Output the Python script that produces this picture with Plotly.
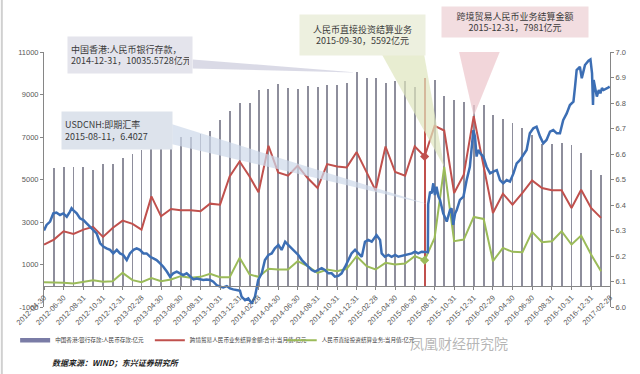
import plotly.graph_objects as go

# ---------------- data ----------------
month_dates = [
    "2012-04-30", "2012-05-31", "2012-06-30", "2012-07-31", "2012-08-31", "2012-09-30",
    "2012-10-31", "2012-11-30", "2012-12-31",
    "2013-01-31", "2013-02-28", "2013-03-31", "2013-04-30", "2013-05-31", "2013-06-30",
    "2013-07-31", "2013-08-31", "2013-09-30", "2013-10-31", "2013-11-30", "2013-12-31",
    "2014-01-31", "2014-02-28", "2014-03-31", "2014-04-30", "2014-05-31", "2014-06-30",
    "2014-07-31", "2014-08-31", "2014-09-30", "2014-10-31", "2014-11-30", "2014-12-31",
    "2015-01-31", "2015-02-28", "2015-03-31", "2015-04-30", "2015-05-31", "2015-06-30",
    "2015-07-31", "2015-08-31", "2015-09-30", "2015-10-31", "2015-11-30", "2015-12-31",
    "2016-01-31", "2016-02-29", "2016-03-31", "2016-04-30", "2016-05-31", "2016-06-30",
    "2016-07-31", "2016-08-31", "2016-09-30", "2016-10-31", "2016-11-30", "2016-12-31",
    "2017-01-31",
]

# 跨境贸易人民币业务结算金额:合计:当月值 (亿元)
trade_settle = [
    1939, 2174, 2565, 2440, 2643, 2770, 2300, 2722, 3066,
    2910, 2643, 4207, 3268, 3615, 3550, 3550, 3503, 3864, 3817, 5146, 5850,
    5146, 4396, 6587, 5334, 5179, 5648, 5069, 4600, 5727, 5616, 5569, 6291,
    5382, 4490, 6554, 5350, 5179, 6554, 6085, 7526, 7306, 4366, 5226, 7981,
    5616, 3427, 4333, 3817, 4366, 4958, 4600, 4490, 4490, 3662, 4521, 3662,
    3193,
]

# 人民币直接投资结算业务:当月值 (亿元)
fdi_settle = [
    169, 169, 140, 108, 187, 263, 187, 216, 608,
    263, 169, 357, 216, 296, 451, 374, 420, 561, 404, 404, 1313,
    530, 420, 796, 765, 765, 1156, 921, 608, 765, 686, 796, 1391,
    921, 765, 1078, 1000, 1047, 1391, 1203, 2250, 5592, 2096, 2174, 3237,
    3143, 1156, 1782, 1595, 1579, 2534, 2049, 2096, 2565, 1939, 2362, 1470,
    686,
]

# 中国香港:银行存款:人民币存款 (亿元), 2012-05 .. 2017-01
bar_dates = month_dates[1:]
hk_deposits = [
    5541, 5577, 5581, 5565, 5457, 5709, 5714, 6030,
    6209, 6392, 6681, 6850, 6951, 6981, 7003, 7164, 7300, 7797, 8240, 8605,
    8608, 9208, 9270, 9492, 9293, 9258, 9386, 9364, 9445, 9448, 9528, 10035.5728,
    9766, 9785, 9558, 9619, 9618, 9368, 9791, 9665, 8953, 8762, 8645, 8511,
    8522, 8051, 7838, 7678, 7436, 7117, 6673, 6672, 6715, 6607, 6270, 5467,
    5226,
]

highlight_date = "2015-07-31"

# USDCNH:即期汇率
cnh_dates = [
    "2012-04-30", "2012-05-08", "2012-05-19", "2012-05-29", "2012-06-08", "2012-06-19",
    "2012-06-29", "2012-07-10", "2012-07-20", "2012-07-25", "2012-07-30", "2012-08-10",
    "2012-08-20", "2012-08-31", "2012-09-10", "2012-09-20", "2012-10-01", "2012-10-11",
    "2012-10-22", "2012-11-01", "2012-11-11", "2012-11-22", "2012-12-02", "2012-12-13",
    "2012-12-23", "2013-01-02", "2013-01-13", "2013-01-23", "2013-02-03", "2013-02-13",
    "2013-02-23", "2013-03-06", "2013-03-16", "2013-03-27", "2013-04-06", "2013-04-16",
    "2013-04-27", "2013-05-07", "2013-05-18", "2013-05-28", "2013-06-07", "2013-06-18",
    "2013-06-28", "2013-07-08", "2013-07-19", "2013-07-29", "2013-08-09", "2013-08-19",
    "2013-08-29", "2013-09-09", "2013-09-19", "2013-09-30", "2013-10-10", "2013-10-20",
    "2013-10-31", "2013-11-10", "2013-11-21", "2013-12-01", "2013-12-11", "2013-12-22",
    "2014-01-01", "2014-01-06", "2014-01-17", "2014-01-27", "2014-02-07", "2014-02-17",
    "2014-02-22", "2014-02-27", "2014-03-10", "2014-03-20", "2014-03-31", "2014-04-10",
    "2014-04-20", "2014-05-01", "2014-05-11", "2014-05-22", "2014-06-01", "2014-06-11",
    "2014-06-22", "2014-07-02", "2014-07-13", "2014-07-23", "2014-08-02", "2014-08-13",
    "2014-08-23", "2014-09-03", "2014-09-13", "2014-09-23", "2014-10-04", "2014-10-14",
    "2014-10-24", "2014-11-04", "2014-11-14", "2014-11-25", "2014-12-05", "2014-12-15",
    "2014-12-26", "2015-01-05", "2015-01-16", "2015-01-26", "2015-02-05", "2015-02-16",
    "2015-02-26", "2015-03-03", "2015-03-14", "2015-03-19", "2015-03-29", "2015-04-09",
    "2015-04-19", "2015-04-30", "2015-05-10", "2015-05-20", "2015-05-31", "2015-06-10",
    "2015-06-21", "2015-07-01", "2015-07-11", "2015-07-22", "2015-08-01", "2015-08-10",
    "2015-08-11", "2015-08-17", "2015-08-22", "2015-08-27", "2015-09-01", "2015-09-06",
    "2015-09-12", "2015-09-17", "2015-09-22", "2015-09-27", "2015-10-08", "2015-10-13",
    "2015-10-18", "2015-10-23", "2015-10-28", "2015-11-03", "2015-11-08", "2015-11-18",
    "2015-11-29", "2015-12-09", "2015-12-19", "2015-12-30", "2016-01-04", "2016-01-09",
    "2016-01-14", "2016-01-20", "2016-01-30", "2016-02-09", "2016-02-20", "2016-03-01",
    "2016-03-12", "2016-03-22", "2016-04-01", "2016-04-12", "2016-04-22", "2016-05-03",
    "2016-05-13", "2016-05-23", "2016-06-03", "2016-06-13", "2016-06-23", "2016-07-04",
    "2016-07-14", "2016-07-25", "2016-08-04", "2016-08-14", "2016-08-25", "2016-09-04",
    "2016-09-15", "2016-09-25", "2016-10-05", "2016-10-16", "2016-10-26", "2016-11-06",
    "2016-11-11", "2016-11-16", "2016-11-26", "2016-12-02", "2016-12-07", "2016-12-12",
    "2016-12-23", "2016-12-29", "2017-01-03", "2017-01-06", "2017-01-08", "2017-01-13",
    "2017-01-18", "2017-01-24", "2017-01-29", "2017-02-03", "2017-02-08", "2017-02-19",
    "2017-02-27",
]
usdcnh = [
    6.300, 6.322, 6.335, 6.367, 6.370, 6.361,
    6.367, 6.354, 6.374, 6.387, 6.380, 6.367,
    6.348, 6.341, 6.328, 6.315, 6.302, 6.289,
    6.250, 6.237, 6.230, 6.224, 6.210, 6.224,
    6.210, 6.204, 6.184, 6.210, 6.224, 6.230,
    6.224, 6.210, 6.210, 6.197, 6.191, 6.184,
    6.171, 6.158, 6.139, 6.119, 6.132, 6.139,
    6.132, 6.125, 6.132, 6.119, 6.108, 6.112,
    6.108, 6.106, 6.108, 6.106, 6.099, 6.086,
    6.080, 6.077, 6.082, 6.073, 6.069, 6.067,
    6.064, 6.041, 6.027, 6.034, 6.014, 6.041,
    6.080, 6.106, 6.132, 6.184, 6.204, 6.210,
    6.230, 6.243, 6.224, 6.256, 6.243, 6.230,
    6.217, 6.204, 6.184, 6.171, 6.158, 6.145,
    6.139, 6.145, 6.152, 6.145, 6.132, 6.132,
    6.119, 6.122, 6.132, 6.158, 6.184, 6.210,
    6.224, 6.210, 6.197, 6.256, 6.263, 6.256,
    6.276, 6.282, 6.263, 6.210, 6.197, 6.204,
    6.197, 6.204, 6.197, 6.200, 6.204, 6.204,
    6.210, 6.217, 6.210, 6.217, 6.217, 6.215,
    6.4027, 6.452, 6.446, 6.485, 6.439, 6.472,
    6.433, 6.420, 6.393, 6.367, 6.335, 6.354,
    6.380, 6.387, 6.322, 6.367, 6.380, 6.420,
    6.433, 6.498, 6.550, 6.694, 6.668, 6.590,
    6.616, 6.603, 6.590, 6.550, 6.524, 6.531,
    6.537, 6.498, 6.485, 6.498, 6.492, 6.524,
    6.563, 6.576, 6.596, 6.616, 6.681, 6.701,
    6.707, 6.668, 6.642, 6.655, 6.688, 6.694,
    6.681, 6.681, 6.733, 6.759, 6.792, 6.805,
    6.864, 6.929, 6.942, 6.897, 6.923, 6.949,
    6.966, 6.971, 6.916, 6.792, 6.890, 6.851,
    6.825, 6.851, 6.838, 6.858, 6.851, 6.858,
    6.864,
]

tick_dates = [
    "2012-04-30", "2012-06-30", "2012-08-31", "2012-10-31", "2012-12-31",
    "2013-02-28", "2013-04-30", "2013-06-30", "2013-08-31", "2013-10-31", "2013-12-31",
    "2014-02-28", "2014-04-30", "2014-06-30", "2014-08-31", "2014-10-31", "2014-12-31",
    "2015-02-28", "2015-04-30", "2015-06-30", "2015-08-31", "2015-10-31", "2015-12-31",
    "2016-02-29", "2016-04-30", "2016-06-30", "2016-08-31", "2016-10-31", "2016-12-31",
    "2017-02-28",
]
left_ticks = [-1000, 1000, 3000, 5000, 7000, 9000, 11000]
left_labels = ["-1000", "1000", "3000", "5000", "7000", "9000", "11000"]
right_ticks = [6.0, 6.1, 6.2, 6.3, 6.4, 6.5, 6.6, 6.7, 6.8, 6.9, 7.0]
right_labels = ["6.0", "6.1", "6.2", "6.3", "6.4", "6.5", "6.6", "6.7", "6.8", "6.9", "7.0"]

# callout points
cnh_call_date, cnh_call_val = "2015-08-11", 6.4027
dep_call_date, dep_call_val = "2014-12-31", 10035.5728
fdi_call_date, fdi_call_val = "2015-09-30", 5592
trd_call_date, trd_call_val = "2015-12-31", 7981

# ---------------- figure ----------------
FONT = "Liberation Sans, Noto Sans CJK SC, sans-serif"
CJK = "Noto Sans CJK SC, sans-serif"
AXIS_C = "#868686"
TICK_C = "#595959"
BAR_C = "#8e8e9c"

hl_idx = month_dates.index(highlight_date)
bar_colors = ["#c0504d" if d == highlight_date else BAR_C for d in bar_dates]

fig = go.Figure()
fig.add_trace(go.Bar(
    x=bar_dates, y=hk_deposits, name="中国香港:银行存款:人民币存款:亿元",
    marker=dict(color=bar_colors, line=dict(width=0)),
    width=3 * 86400000, yaxis="y", showlegend=False,
))
# legend entry for the deposit bars (thick bar-like key)
fig.add_trace(go.Scatter(
    x=[None], y=[None], mode="lines", name="中国香港:银行存款:人民币存款:亿元",
    line=dict(color="#7a7ca6", width=4.5), yaxis="y", legend="legend",
))
fig.add_trace(go.Scatter(
    x=month_dates, y=trade_settle, mode="lines",
    name="跨境贸易人民币业务结算金额:合计:当月值:亿元",
    line=dict(color="#c0504d", width=2), yaxis="y", legend="legend2",
))
fig.add_trace(go.Scatter(
    x=month_dates, y=fdi_settle, mode="lines",
    name="人民币直接投资结算业务:当月值:亿元",
    line=dict(color="#9bbb59", width=2), yaxis="y", legend="legend3",
))
fig.add_trace(go.Scatter(
    x=[month_dates[hl_idx]], y=[trade_settle[hl_idx]], mode="markers",
    marker=dict(symbol="diamond", size=7, color="#c0504d"), showlegend=False, yaxis="y",
))
fig.add_trace(go.Scatter(
    x=[month_dates[hl_idx]], y=[fdi_settle[hl_idx]], mode="markers",
    marker=dict(symbol="diamond", size=7, color="#9bbb59"), showlegend=False, yaxis="y",
))
fig.add_trace(go.Scatter(
    x=cnh_dates, y=usdcnh, mode="lines", name="USDCNH:即期汇率",
    line=dict(color="#3c6eb4", width=2.5), yaxis="y2", showlegend=False,
))

# wedge pointers (pixel paths anchored at the data points)
def wedge(xd, yd, yref, path, color):
    return dict(type="path", xref="x", yref=yref, xsizemode="pixel", ysizemode="pixel",
                xanchor=xd, yanchor=yd, path=path, fillcolor=color,
                line=dict(width=0), layer="above")

shapes = [
    wedge(dep_call_date, dep_call_val, "y", "M 0,0 L -164,13 L -164,4 Z", "rgba(205,205,222,0.75)"),
    wedge(cnh_call_date, cnh_call_val, "y2", "M 0,0 L -256,80 L -256,60 Z", "rgba(205,216,233,0.7)"),
    wedge(fdi_call_date, fdi_call_val, "y", "M 0,0 L -62,112 L -20,112 Z", "rgba(222,230,190,0.7)"),
    wedge(trd_call_date, trd_call_val, "y", "M 0,0 L -18,79 L 32,79 Z", "rgba(238,200,206,0.75)"),
    dict(type="line", xref="paper", yref="paper", x0=-0.0745, x1=-0.0745, y0=-0.27, y1=1.21,
         line=dict(color="#d0d0d0", width=2)),
]

def box(text, xp, yp, bg, w, h, align):
    return dict(text=text, xref="paper", yref="paper", x=xp, y=yp, xanchor="center",
                yanchor="middle", showarrow=False, bgcolor=bg, width=w, height=h,
                align=align, font=dict(family=CJK, size=9, color="#3a3a3a"), borderpad=3)

annotations = [
    box("中国香港:人民币银行存款，<br>2014-12-31，10035.5728亿元", 0.152, 0.988, "#e4e4ec", 118, 30, "left"),
    box("USDCNH:即期汇率<br>2015-08-11，6.4027", 0.129, 0.694, "#dde3ec", 104, 31, "left"),
    box("人民币直接投资结算业务<br>2015-09-30，5592亿元", 0.562, 1.067, "#edf0df", 119, 34, "center"),
    box("跨境贸易人民币业务结算金额<br>2015-12-31，7981亿元", 0.832, 1.118, "#f2dde0", 140, 24, "center"),
    dict(text="<b><i>数据来源：WIND；东兴证券研究所</i></b>", xref="paper", yref="paper",
         x=0.0106, y=-0.216, xanchor="left", yanchor="middle", showarrow=False,
         font=dict(family=CJK, size=8, color="#222222")),
    dict(text="凤凰财经研究院", xref="paper", yref="paper", x=0.733, y=-0.141,
         xanchor="center", yanchor="middle", showarrow=False,
         font=dict(family=CJK, size=14, color="rgba(150,150,150,0.7)")),
]

def leg(xp):
    return dict(orientation="h", x=xp, y=-0.13, xanchor="left", yanchor="middle",
                font=dict(family=CJK, size=5.6, color="#404040"), itemwidth=30,
                bgcolor="rgba(0,0,0,0)")

fig.update_layout(
    width=640, height=374,
    margin=dict(l=44, r=30, t=52, b=67, autoexpand=False),
    paper_bgcolor="white", plot_bgcolor="white",
    font=dict(family=FONT, size=8, color=TICK_C),
    bargap=0,
    showlegend=True,
    legend=leg(-0.051),
    legend2=leg(0.187),
    legend3=leg(0.42),
    xaxis=dict(
        type="date", range=["2012-04-30", "2017-02-28"],
        tickmode="array", tickvals=tick_dates, ticktext=tick_dates, tickangle=-45,
        tickfont=dict(family=FONT, size=7.5, color=TICK_C),
        showline=True, linecolor=AXIS_C, linewidth=1, ticks="outside", ticklen=3,
        tickcolor=AXIS_C, showgrid=False, zeroline=False,
        anchor="free", position=0.081, automargin=False,
    ),
    yaxis=dict(
        range=[-1000, 11000], tickmode="array", tickvals=left_ticks, ticktext=left_labels,
        tickfont=dict(family=FONT, size=7.5, color=TICK_C),
        showline=True, linecolor=AXIS_C, linewidth=1, ticks="outside", ticklen=3,
        tickcolor=AXIS_C, showgrid=False, zeroline=False, automargin=False,
    ),
    yaxis2=dict(
        range=[6.0, 7.0], overlaying="y", side="right", anchor="x",
        tickmode="array", tickvals=right_ticks, ticktext=right_labels,
        tickfont=dict(family=FONT, size=7.5, color=TICK_C),
        showline=True, linecolor=AXIS_C, linewidth=1, ticks="outside", ticklen=3,
        tickcolor=AXIS_C, showgrid=False, zeroline=False, automargin=False,
    ),
    shapes=shapes,
    annotations=annotations,
)

fig.write_html("out.html", config={"displayModeBar": False},
               post_script="document.body.style.margin='0px';")
